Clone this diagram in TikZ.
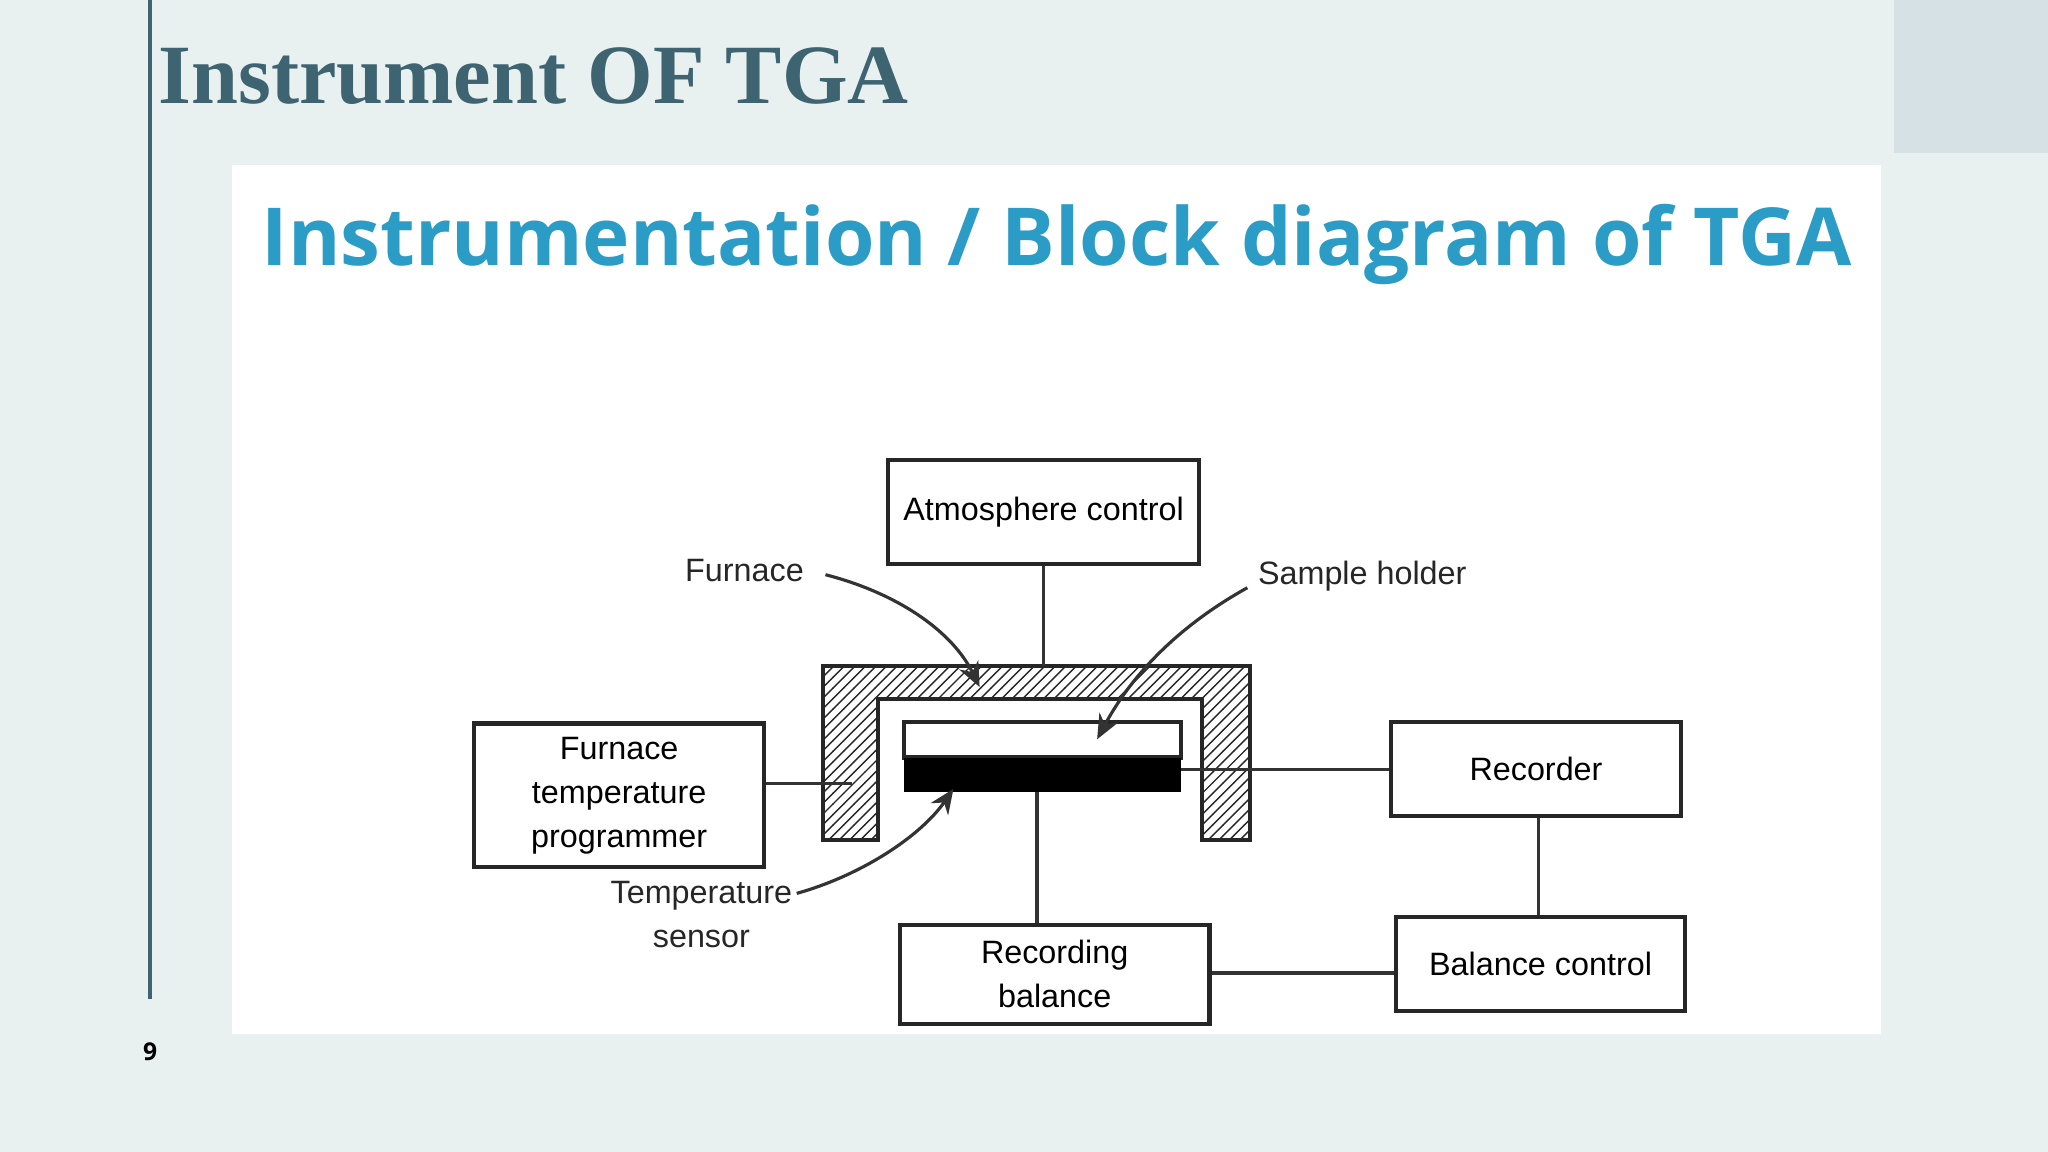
\documentclass[tikz,border=0pt]{standalone}
\usepackage{fontspec}
\setmainfont{Liberation Serif}
\newfontfamily\dsans{Liberation Sans}
\newfontfamily\tsans{Open Sans}
\usetikzlibrary{patterns,arrows.meta}
\definecolor{bg}{HTML}{E9F0F0}
\definecolor{teal}{HTML}{3D6470}
\definecolor{corner}{HTML}{D6E1E6}
\definecolor{cyanT}{HTML}{2A9CC6}
\newlength\pxu
\setlength\pxu{0.013061cm}
\begin{document}
\begin{tikzpicture}[x=0.013061cm,y=-0.013061cm,
  box/.style={draw=black!85,line width=1.2pt,fill=white,font=\dsans\fontsize{9.2}{11.5}\selectfont,align=center,inner sep=0pt},
  ln/.style={draw=black!80,line width=0.9pt},
  lab/.style={font=\dsans\fontsize{9.2}{11.5}\selectfont,align=center,text=black!85},
  arr/.style={draw=black!80,line width=0.9pt,-{Stealth[length=7pt,width=6pt]}}]
\fill[bg] (0,0) rectangle (1568,882);
\useasboundingbox (0,0) rectangle (1568,882);
\fill[corner] (1450,0) rectangle (1568,117);
\draw[teal,line width=1.2pt] (115,0) -- (115,765);
\node[anchor=base west,text=teal,font=\bfseries\fontsize{24}{28}\selectfont,inner sep=0pt] (title) at (121,79) {Instrument OF TGA};
\node[font=\tsans\bfseries\fontsize{7}{8}\selectfont,inner sep=0pt] (pg) at (115,805) {9};
\fill[white] (178,126) rectangle (1440,792);
\node[anchor=west,inner sep=0pt,text=cyanT] (sub) at (200,187) {\resizebox{1217\pxu}{!}{\tsans\bfseries Instrumentation / Block diagram of TGA}};
% boxes
\node[box,minimum width=238\pxu,minimum height=80\pxu] (atm) at (799,392) {Atmosphere control};
\node[box,minimum width=222\pxu,minimum height=110\pxu] (ftp) at (474,609) {Furnace\\[1pt]temperature\\[1pt]programmer};
\node[box,minimum width=222\pxu,minimum height=72\pxu] (rec) at (1176,589) {Recorder};
\node[box,minimum width=221\pxu,minimum height=72\pxu] (bc) at (1179.5,738) {Balance control};
\node[box,minimum width=237\pxu,minimum height=76\pxu] (rb) at (807.5,746) {Recording\\[1pt]balance};
% furnace
\path[fill=white] (630,510) -- (957,510) -- (957,643) -- (920,643) -- (920,535) -- (672,535) -- (672,643) -- (630,643) -- cycle;
\draw[pattern=north east lines,pattern color=black!85,draw=black!85,line width=1.2pt] (630,510) -- (957,510) -- (957,643) -- (920,643) -- (920,535) -- (672,535) -- (672,643) -- (630,643) -- cycle;
\node[draw=black!85,line width=1.2pt,fill=white,minimum width=212\pxu,minimum height=27\pxu,inner sep=0pt] (holder) at (798,566.5) {};
\node[fill=black,minimum width=212\pxu,minimum height=26\pxu,inner sep=0pt] (bar) at (798,593) {};
\coordinate (ftop) at (799,510);
\coordinate (fleft) at (652,600);
\coordinate (fright) at (904,589);
% connectors
\draw[ln] (atm.south) -- (ftop);
\draw[ln] (ftp.east |- fleft) -- (fleft);
\draw[ln] (fright) -- (rec.west |- fright);
\draw[ln] (bar.south -| 794,0) -- (rb.north -| 794,0);
\draw[ln] (rec.south -| 1178,0) -- (bc.north -| 1178,0);
\draw[ln] (rb.east |- 0,745) -- (bc.west |- 0,745);
% labels
\node[lab] (lf) at (570,437) {Furnace};
\node[lab] (ls) at (1043,441) {Sample holder};
\node[lab] (lt) at (537,700) {Temperature\\[1pt]sensor};
\coordinate (af) at (750,526);
\coordinate (as) at (840,566);
\coordinate (at) at (730,604);
\draw[arr] (632,440) .. controls (690,455) and (730,485) .. (af);
\draw[arr] (955,450) .. controls (910,475) and (870,510) .. (as);
\draw[arr] (610,684) .. controls (660,670) and (705,640) .. (at);
\end{tikzpicture}
\end{document}
